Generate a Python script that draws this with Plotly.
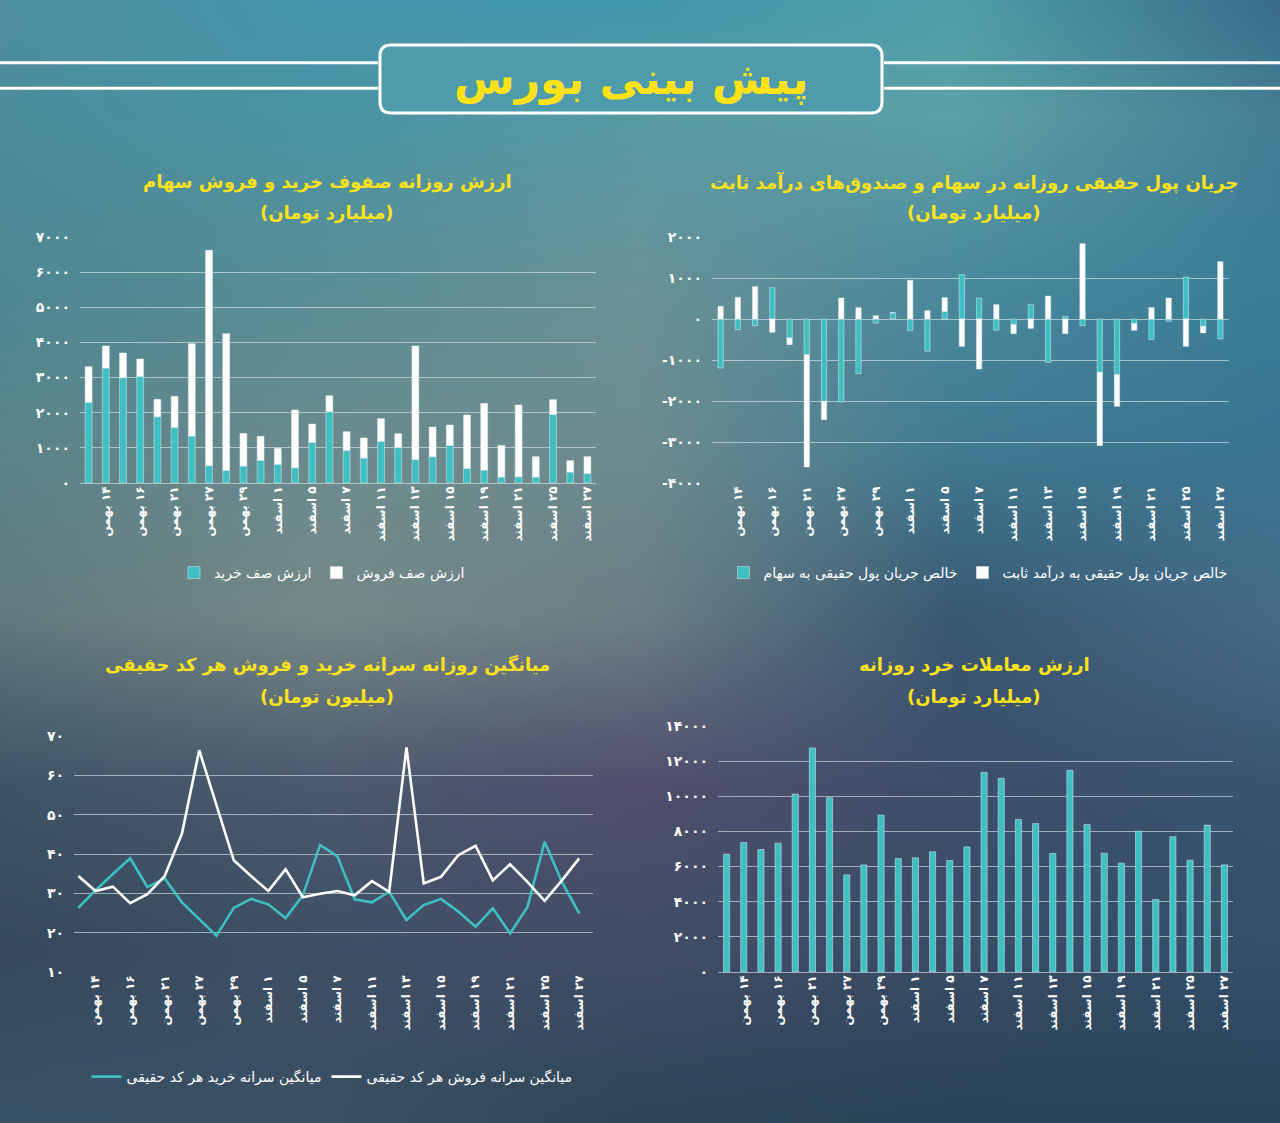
import base64, struct, zlib
import numpy as np
import plotly.graph_objects as go

W, H = 1280, 1123

# ---------------- data ----------------
dates = ["۱۳ بهمن", "۱۴ بهمن", "۱۵ بهمن", "۱۶ بهمن", "۱۸ بهمن", "۲۱ بهمن", "۲۴ بهمن",
         "۲۷ بهمن", "۲۸ بهمن", "۲۹ بهمن", "۳۰ بهمن", "۱ اسفند", "۴ اسفند", "۵ اسفند",
         "۶ اسفند", "۷ اسفند", "۸ اسفند", "۱۱ اسفند", "۱۲ اسفند", "۱۳ اسفند", "۱۴ اسفند",
         "۱۵ اسفند", "۱۸ اسفند", "۱۹ اسفند", "۲۰ اسفند", "۲۱ اسفند", "۲۲ اسفند",
         "۲۵ اسفند", "۲۶ اسفند", "۲۷ اسفند"]
shown_dates = dates[1::2]

# chart 1: buy / sell queues (billion toman)
buy_queue = [2295, 3272, 2997, 3035, 1888, 1584, 1337, 493, 360, 484, 645, 531, 436, 1157, 2030,
             930, 711, 1186, 1015, 673, 749, 1072, 417, 370, 171, 180, 171, 1954, 313, 275]
sell_queue = [1015, 626, 702, 493, 493, 882, 2628, 6128, 3889, 929, 683, 455, 1641, 522, 455,
              531, 569, 645, 389, 3225, 844, 578, 1518, 1897, 901, 2039, 578, 417, 323, 474]

# chart 2: net real money flow
flow_equity = [-1195, -260, -163, 764, -463, -870, -2008, -2024, -1333, -100, 154, -285, -789, 187,
               1081, 512, -276, -138, 358, -1057, 65, -163, -1301, -1358, -114, -504, -57, 1024,
               -179, -488]
flow_fixed = [309, 528, 789, -325, -163, -2740, -447, 512, 276, 80, 0, 943, 203, 333, -667,
              -1220, 350, -220, -228, 561, -358, 1837, -1788, -772, -162, 276, 512, -667, -162, 1398]

# chart 3: per-capita buy / sell (million toman)
percap_buy = [26.3, 30.8, 34.9, 38.9, 31.6, 33.8, 27.7, 23.4, 19.2, 26.3, 28.6, 27.2, 23.7, 29.5,
              42.3, 39.4, 28.5, 27.7, 30.4, 23.2, 27.0, 28.6, 25.4, 21.5, 26.2, 19.8, 26.5, 43.1,
              32.9, 24.9]
percap_sell = [34.4, 30.6, 31.7, 27.5, 29.8, 34.4, 45.2, 66.4, 52.4, 38.4, 34.4, 30.6, 36.1, 29.0,
               29.9, 30.6, 29.5, 33.1, 30.4, 67.1, 32.5, 34.2, 39.7, 42.1, 33.3, 37.4, 32.9, 28.1,
               33.3, 38.9]

# chart 4: retail trade value
retail_value = [6707, 7372, 6973, 7334, 10127, 12749, 9918, 5529, 6099, 8930, 6460, 6498, 6840,
                6346, 7125, 11362, 11020, 8683, 8455, 6745, 11476, 8398, 6764, 6194, 8018, 4123,
                7695, 6365, 8360, 6099]

ticks1 = list(range(0, 7001, 1000))
ticks2 = list(range(-4000, 2001, 1000))
ticks3 = list(range(10, 71, 10))
ticks4 = list(range(0, 14001, 2000))

# ---------------- helpers ----------------
FA = str.maketrans("0123456789", "۰۱۲۳۴۵۶۷۸۹")


def fa(n):
    return str(n).translate(FA)


RLM = "\u200f"
TEAL = "#3ebfc2"
WHITE = "#ffffff"
YELLOW = "#ffe21a"
FONT = "DejaVu Sans"
GRID = "rgba(225,232,236,0.62)"


def px(x):
    return x / W


def py(y):
    return 1 - y / H


# ---------------- background gradient image ----------------
cols = [0.0, 0.25, 0.5, 0.75, 1.0]
rows = [0.0, 0.1, 0.25, 0.4, 0.55, 0.7, 0.85, 1.0]
ctrl = [
    ["#4f8fa0", "#4596aa", "#4398ab", "#4f9fa8", "#3a6e8a"],
    ["#4d8d9c", "#4a95a5", "#579aa4", "#5fa2a7", "#457f95"],
    ["#4e8893", "#5a8e95", "#6a9297", "#4a8a9d", "#3b7e96"],
    ["#5b8489", "#6b8b8e", "#6e8c8f", "#417b92", "#3a7590"],
    ["#62797f", "#778a88", "#6c7f86", "#395871", "#486c87"],
    ["#3f5566", "#4b5a6e", "#524f6d", "#3e4f6c", "#3a5570"],
    ["#36495c", "#3f5065", "#424d66", "#3a4d66", "#34506a"],
    ["#3a5265", "#3a5063", "#2f4658", "#2a4356", "#29435a"],
]
ctrl_rgb = np.array([[[int(c[i:i + 2], 16) for i in (1, 3, 5)] for c in r] for r in ctrl], float)
gw, gh = 160, 140
xs = np.linspace(0, 1, gw)
ys = np.linspace(0, 1, gh)
tmp = np.zeros((len(rows), gw, 3))
for ri in range(len(rows)):
    for ch in range(3):
        tmp[ri, :, ch] = np.interp(xs, cols, ctrl_rgb[ri, :, ch])
img = np.zeros((gh, gw, 3))
for xi in range(gw):
    for ch in range(3):
        img[:, xi, ch] = np.interp(ys, rows, tmp[:, xi, ch])
img = img.clip(0, 255).astype(np.uint8)
raw = b"".join(b"\x00" + img[r].tobytes() for r in range(gh))


def chunk(t, d):
    c = struct.pack(">I", len(d)) + t + d
    return c + struct.pack(">I", zlib.crc32(t + d) & 0xffffffff)


png = (b"\x89PNG\r\n\x1a\n" + chunk(b"IHDR", struct.pack(">IIBBBBB", gw, gh, 8, 2, 0, 0, 0))
       + chunk(b"IDAT", zlib.compress(raw, 9)) + chunk(b"IEND", b""))
bg_uri = "data:image/png;base64," + base64.b64encode(png).decode()

# ---------------- figure ----------------
fig = go.Figure()

# chart 1
fig.add_trace(go.Bar(x=dates, y=buy_queue, name="ارزش صف خرید", marker_color=TEAL,
                     xaxis="x", yaxis="y", legend="legend"))
fig.add_trace(go.Bar(x=dates, y=sell_queue, name="ارزش صف فروش", marker_color=WHITE,
                     xaxis="x", yaxis="y", legend="legend"))
# chart 2
fig.add_trace(go.Bar(x=dates, y=flow_equity, name="خالص جریان پول حقیقی به سهام", marker_color=TEAL,
                     xaxis="x2", yaxis="y2", legend="legend2", offsetgroup="f", width=0.31))
fig.add_trace(go.Bar(x=dates, y=flow_fixed, name="خالص جریان پول حقیقی به درآمد ثابت",
                     marker_color=WHITE, xaxis="x2", yaxis="y2", legend="legend2",
                     offsetgroup="f", width=0.31))
# chart 3
fig.add_trace(go.Scatter(x=dates, y=percap_buy, mode="lines", name="میانگین سرانه خرید هر کد حقیقی",
                         line=dict(color=TEAL, width=2.6), xaxis="x3", yaxis="y3", legend="legend3"))
fig.add_trace(go.Scatter(x=dates, y=percap_sell, mode="lines", name="میانگین سرانه فروش هر کد حقیقی",
                         line=dict(color=WHITE, width=2.6), xaxis="x3", yaxis="y3", legend="legend3"))
# chart 4
fig.add_trace(go.Bar(x=dates, y=retail_value, name="ارزش معاملات خرد", marker_color=TEAL,
                     xaxis="x4", yaxis="y4", showlegend=False, width=0.36))

xtickfont = dict(family=FONT, size=12, color=WHITE, weight="bold")
ytickfont = dict(family=FONT, size=14, color=WHITE, weight="bold")


def xax(domain, anchor, rng=None):
    d = dict(domain=domain, anchor=anchor, type="category", categoryorder="array",
             categoryarray=dates, tickmode="array", tickvals=shown_dates,
             ticktext=[RLM + d for d in shown_dates], tickangle=-90, tickfont=xtickfont,
             showgrid=False, showline=False, zeroline=False, ticks="", fixedrange=True,
             automargin=False)
    if rng is not None:
        d["range"] = rng
    return d


def yax(domain, anchor, rng, ticks):
    return dict(domain=domain, anchor=anchor, range=rng, tickmode="array", tickvals=ticks,
                ticktext=[fa(t) if t >= 0 else "-" + fa(-t) for t in ticks], tickfont=ytickfont,
                showgrid=True, gridcolor=GRID, gridwidth=1, zeroline=True, zerolinecolor=GRID,
                zerolinewidth=1, showline=False, ticks="", ticklabelstandoff=9,
                automargin=False, fixedrange=True)


legfont = dict(family=FONT, size=14, color=WHITE)
fig.update_layout(
    width=W, height=H, margin=dict(l=0, r=0, t=0, b=0, pad=0, autoexpand=False),
    paper_bgcolor="#3f6f80", plot_bgcolor="rgba(0,0,0,0)",
    barmode="relative", bargap=0.6,
    font=dict(family=FONT, color=WHITE),
    xaxis=xax([px(80), px(596)], "y"),
    yaxis=yax([py(483), py(237)], "x", [0, 7000], ticks1),
    xaxis2=xax([px(712), px(1229)], "y2"),
    yaxis2=yax([py(483), py(237)], "x2", [-4000, 2000], ticks2),
    xaxis3=xax([px(74), px(593)], "y3", [-0.25, 29.8]),
    yaxis3=yax([py(972), py(736)], "x3", [10, 70], ticks3),
    xaxis4=xax([px(718), px(1233)], "y4"),
    yaxis4=yax([py(972), py(726)], "x4", [0, 14000], ticks4),
    legend=dict(x=px(322), y=py(573), xanchor="center", yanchor="middle", orientation="h",
                bgcolor="rgba(0,0,0,0)", font=legfont, itemwidth=30),
    legend2=dict(x=px(978), y=py(573), xanchor="center", yanchor="middle", orientation="h",
                 bgcolor="rgba(0,0,0,0)", font=legfont, itemwidth=30),
    legend3=dict(x=px(332), y=py(1077), xanchor="center", yanchor="middle", orientation="h",
                 bgcolor="rgba(0,0,0,0)", font=legfont, itemwidth=30),
    showlegend=True,
)

fig.add_layout_image(dict(source=bg_uri, xref="paper", yref="paper", x=0, y=1, sizex=1, sizey=1,
                          xanchor="left", yanchor="top", sizing="stretch", layer="below"))

# header decorations
for yy in (62.7, 88.3):
    fig.add_shape(type="line", xref="paper", yref="paper", x0=0, x1=px(378), y0=py(yy), y1=py(yy),
                  line=dict(color=WHITE, width=3))
    fig.add_shape(type="line", xref="paper", yref="paper", x0=px(884), x1=1, y0=py(yy), y1=py(yy),
                  line=dict(color=WHITE, width=3))
bx0, bx1, by0, by1, r = 380, 882, 45, 113, 11
path = (f"M {px(bx0 + r)} {py(by0)} L {px(bx1 - r)} {py(by0)} Q {px(bx1)} {py(by0)} {px(bx1)} {py(by0 + r)} "
        f"L {px(bx1)} {py(by1 - r)} Q {px(bx1)} {py(by1)} {px(bx1 - r)} {py(by1)} "
        f"L {px(bx0 + r)} {py(by1)} Q {px(bx0)} {py(by1)} {px(bx0)} {py(by1 - r)} "
        f"L {px(bx0)} {py(by0 + r)} Q {px(bx0)} {py(by0)} {px(bx0 + r)} {py(by0)} Z")
fig.add_shape(type="path", xref="paper", yref="paper", path=path, fillcolor="#4e9cab",
              line=dict(color=WHITE, width=3), layer="below")
fig.add_annotation(text="پیش بینی بورس", x=px(631), y=py(79), xref="paper", yref="paper",
                   xanchor="center", yanchor="middle", showarrow=False,
                   font=dict(family=FONT, size=44, color=YELLOW, weight="bold"))

titles = [
    ("ارزش روزانه صفوف خرید و فروش سهام", "(میلیارد تومان)", 327, 182, 213),
    ("جریان پول حقیقی روزانه در سهام و صندوق‌های درآمد ثابت", "(میلیارد تومان)", 974, 182, 213),
    ("میانگین روزانه سرانه خرید و فروش هر کد حقیقی", "(میلیون تومان)", 327, 665, 697),
    ("ارزش معاملات خرد روزانه", "(میلیارد تومان)", 974, 665, 697),
]
for t1, t2, cx, y1, y2 in titles:
    for t, yy in ((t1, y1), (t2, y2)):
        fig.add_annotation(text=t, x=px(cx), y=py(yy), xref="paper", yref="paper", showarrow=False,
                           xanchor="center", yanchor="middle",
                           font=dict(family=FONT, size=18, color=YELLOW, weight="bold"))

fig.write_html("out.html", config={"displayModeBar": False},
               post_script="document.body.style.margin='0';document.body.style.overflow='hidden';")
